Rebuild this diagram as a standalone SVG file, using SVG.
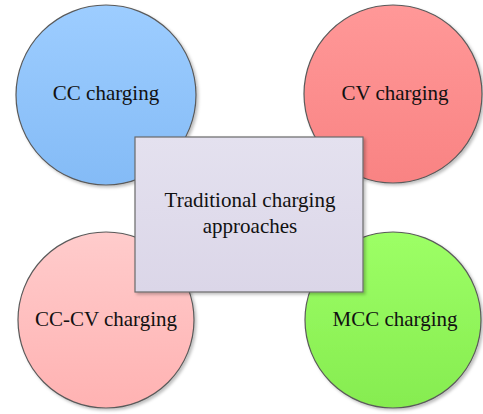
<svg xmlns="http://www.w3.org/2000/svg" width="483" height="414" viewBox="0 0 483 414">
<style>
.c{stroke:#5a5a5a;stroke-width:1.2}
.t{font-family:"Liberation Serif",serif;font-size:21px;fill:#111;text-anchor:middle}
</style>
<defs>
<filter id="sh" x="-10%" y="-10%" width="125%" height="125%">
<feDropShadow dx="2" dy="2" stdDeviation="1.5" flood-color="#000" flood-opacity="0.25"/>
</filter>
<linearGradient id="gb" x1="0" y1="0" x2="0" y2="1"><stop offset="0" stop-color="#9dcdff"/><stop offset="1" stop-color="#84bbf6"/></linearGradient>
<linearGradient id="gr" x1="0" y1="0" x2="0" y2="1"><stop offset="0" stop-color="#ff9898"/><stop offset="1" stop-color="#f98383"/></linearGradient>
<linearGradient id="gp" x1="0" y1="0" x2="0" y2="1"><stop offset="0" stop-color="#ffcccc"/><stop offset="1" stop-color="#ffb2b2"/></linearGradient>
<linearGradient id="gg" x1="0" y1="0" x2="0" y2="1"><stop offset="0" stop-color="#9dff66"/><stop offset="1" stop-color="#86ec50"/></linearGradient>
<linearGradient id="gl" x1="0" y1="0" x2="0" y2="1"><stop offset="0" stop-color="#e4e1ef"/><stop offset="1" stop-color="#dbd6e8"/></linearGradient>
</defs>
<g id="connectors"/>
<g id="cc"><circle class="c" cx="106" cy="95" r="90" fill="url(#gb)" filter="url(#sh)"/><text class="t" x="106" y="100">CC charging</text></g>
<g id="cv"><circle class="c" cx="393" cy="94" r="89" fill="url(#gr)" filter="url(#sh)"/><text class="t" x="395" y="100">CV charging</text></g>
<g id="cccv"><circle class="c" cx="106" cy="320" r="88" fill="url(#gp)" filter="url(#sh)"/><text class="t" x="106" y="326">CC-CV charging</text></g>
<g id="mcc"><circle class="c" cx="393" cy="320" r="88" fill="url(#gg)" filter="url(#sh)"/><text class="t" x="395" y="326">MCC charging</text></g>
<g id="center"><rect x="135" y="137" width="228" height="155" fill="url(#gl)" stroke="#6a6a6a" stroke-width="1.2" filter="url(#sh)"/><text class="t" x="250" y="207">Traditional charging</text><text class="t" x="250" y="233">approaches</text></g>
</svg>
